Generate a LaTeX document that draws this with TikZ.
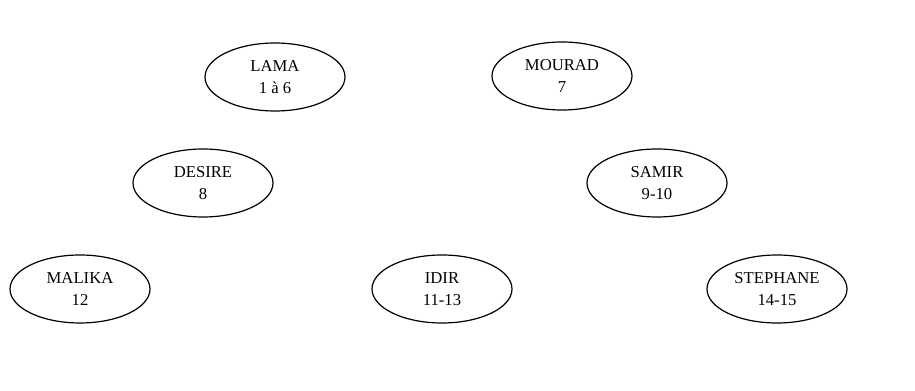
\documentclass[tikz,border=0pt]{standalone}
\usepackage{fontspec}
\setmainfont{Liberation Serif}
\usepackage{tikz}
\usetikzlibrary{shapes.geometric}
\tikzstyle{person} = [ellipse, minimum width=105pt, minimum height=51pt, inner sep=0pt, text centered, align=center, draw=black, line width=0.9pt, font=\fontsize{12.5}{16.5}\selectfont]
\begin{document}
\begin{tikzpicture}[x=0.75pt,y=-0.75pt]
\useasboundingbox (0,0) rectangle (915,391);
\node (lama) [person] at (275,77) {LAMA\\1 à 6};
\node (mourad) [person] at (562,76) {MOURAD\\7};
\node (desire) [person] at (203,183) {DESIRE\\8};
\node (samir) [person] at (657,183) {SAMIR\\9-10};
\node (malika) [person] at (80,289) {MALIKA\\12};
\node (idir) [person] at (442,289) {IDIR\\11-13};
\node (stephane) [person] at (777,289) {STEPHANE\\14-15};
\end{tikzpicture}
\end{document}
